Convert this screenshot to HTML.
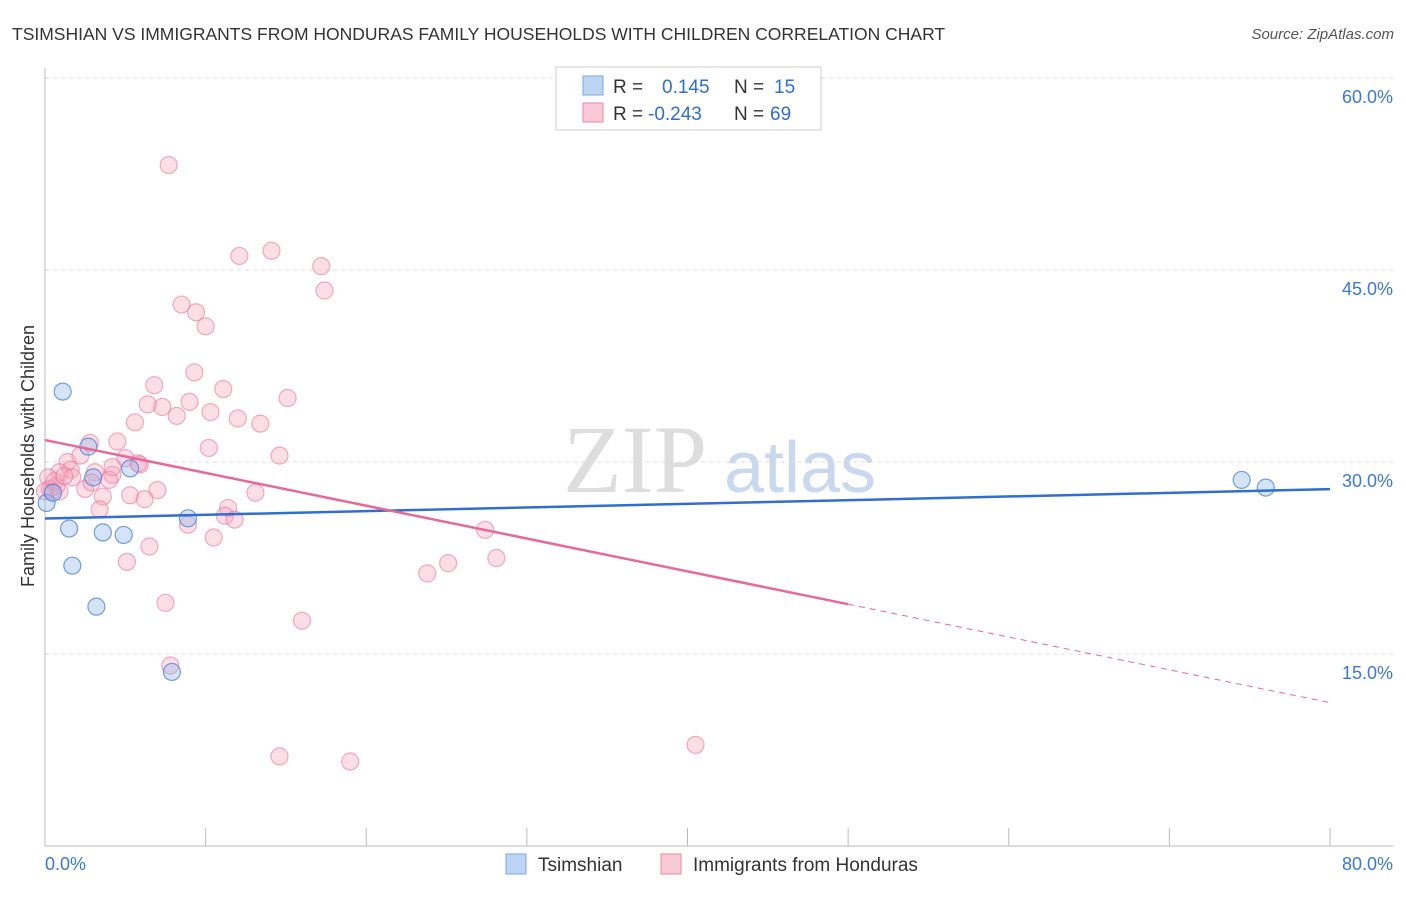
<!DOCTYPE html>
<html><head><meta charset="utf-8"><style>
body{margin:0;background:#fff;font-family:"Liberation Sans",sans-serif;}
</style></head><body>
<svg width="1406" height="892" xmlns="http://www.w3.org/2000/svg" id="chart">
<text x="12" y="40" font-size="17.5" fill="#333">TSIMSHIAN VS IMMIGRANTS FROM HONDURAS FAMILY HOUSEHOLDS WITH CHILDREN CORRELATION CHART</text>
<text x="1394" y="39" font-size="15" fill="#555" font-style="italic" text-anchor="end">Source: ZipAtlas.com</text>
<text x="635" y="492" font-size="96" fill="#ddd" font-family="Liberation Serif,serif" text-anchor="middle">ZIP</text>
<text x="800" y="492" font-size="72" fill="#c8d8ee" text-anchor="middle">atlas</text>
<g id="grid"></g><g id="axes"></g><g id="pts"></g><g id="lines"></g>
<text x="34" y="456" font-size="18" fill="#333" text-anchor="middle" transform="rotate(-90 34 456)">Family Households with Children</text>
<g>
<rect x="556" y="67" width="265" height="63" fill="#fff" stroke="#ccc"/>
<rect x="583" y="76" width="20" height="19" fill="#bcd5f5" stroke="#7aa7e0"/>
<rect x="583" y="103" width="20" height="19" fill="#f9c8d6" stroke="#e88aa8"/>
<text x="613" y="93" font-size="19" fill="#333">R = <tspan fill="#2f6fd0" x="662">0.145</tspan><tspan fill="#333" x="734">N =</tspan><tspan fill="#2f6fd0" x="774">15</tspan></text>
<text x="613" y="120" font-size="19" fill="#333">R = <tspan fill="#2f6fd0" x="648">-0.243</tspan><tspan fill="#333" x="734">N =</tspan><tspan fill="#2f6fd0" x="770">69</tspan></text>
</g>
<g>
<rect x="506" y="854" width="20" height="20" fill="#bcd5f5" stroke="#7aa7e0"/>
<text x="538" y="871" font-size="19" fill="#333">Tsimshian</text>
<rect x="661" y="854" width="20" height="20" fill="#f9c8d6" stroke="#e88aa8"/>
<text x="693" y="871" font-size="19" fill="#333">Immigrants from Honduras</text>
</g>
</svg>
<script>
const yTicks=[15,30,45,60];
const yTickLabels=["15.0%","30.0%","45.0%","60.0%"];
const xTicks=[0,10,20,30,40,50,60,70,80];
const blueX=[0.1,1.1,1.5,1.7,3.2,2.7,3.0,3.6,4.9,5.3,7.9,8.9,74.5,76.0,0.5];
const blueY=[26.8,35.5,24.8,21.9,18.7,31.2,28.8,24.5,24.3,29.5,13.6,25.6,28.6,28.0,27.6];
const pinkX=[7.7,14.1,12.1,17.2,17.4,8.5,9.4,10.0,9.3,6.8,11.1,15.1,6.4,9.0,7.3,10.3,8.2,12.0,5.6,13.4,4.5,2.8,10.2,14.6,5.0,1.4,5.9,2.2,1.6,3.1,4.2,0.9,4.0,1.7,2.5,0.2,0.7,0.4,7.0,13.1,3.6,5.3,6.2,3.4,11.4,11.2,11.8,8.9,27.4,10.5,6.5,28.1,5.1,25.1,23.8,7.5,16.0,7.8,14.6,19.0,40.5,0.3,0.6,1.2,2.9,5.8,4.2,0.0,0.9];
const pinkY=[53.2,46.5,46.1,45.3,43.4,42.3,41.7,40.6,37.0,36.0,35.7,35.0,34.5,34.7,34.3,33.9,33.6,33.4,33.1,33.0,31.6,31.5,31.1,30.5,30.3,30.0,29.8,30.5,29.4,29.2,29.0,29.2,28.6,28.8,27.9,28.8,28.1,27.7,27.8,27.6,27.3,27.4,27.1,26.3,26.4,25.8,25.5,25.1,24.7,24.1,23.4,22.5,22.2,22.1,21.3,19.0,17.6,14.1,7.0,6.6,7.9,27.9,28.5,28.9,28.4,29.9,29.6,27.7,27.7];
const X0=45,X1=1330,YB=846,YT=78;
const sx=v=>X0+v/80*(X1-X0), sy=v=>YB-v/60*(YB-YT);
const NS="http://www.w3.org/2000/svg";
function mk(tag,attrs,parent,txt){const e=document.createElementNS(NS,tag);for(const k in attrs)e.setAttribute(k,attrs[k]);if(txt!==undefined)e.textContent=txt;document.getElementById(parent).appendChild(e);return e;}
yTicks.forEach((t,i)=>{
 const g=mk('line',{x1:X0,x2:1394,y1:sy(t),y2:sy(t),stroke:'#ddd','stroke-dasharray':'4,4'},'grid');
 
 
 const l=mk('text',{x:1393,y:sy(t)+25,'font-size':18,fill:'#3a78d8','text-anchor':'end'},'axes',yTickLabels[i]);
 
 
});
const ax=mk('line',{x1:X0,x2:X0,y1:68,y2:YB,stroke:'#bbb'},'axes');


const bx=mk('line',{x1:X0,x2:1394,y1:YB,y2:YB,stroke:'#bbb'},'axes');


xTicks.forEach(t=>{const e=mk('line',{x1:sx(t),x2:sx(t),y1:828,y2:YB,stroke:'#bbb'},'axes');
 
 });
const xl0=mk('text',{x:45,y:870,'font-size':18,fill:'#3a78d8'},'axes','0.0%');


const xl1=mk('text',{x:1393,y:870,'font-size':18,fill:'#3a78d8','text-anchor':'end'},'axes','80.0%');


pinkX.forEach((v,i)=>{const c=mk('circle',{cx:sx(v),cy:sy(pinkY[i]),r:8.5,fill:'rgba(245,160,185,0.35)',stroke:'rgba(232,120,155,0.6)','stroke-width':1.2},'pts');
 
 });
blueX.forEach((v,i)=>{const c=mk('circle',{cx:sx(v),cy:sy(blueY[i]),r:8.5,fill:'rgba(150,185,235,0.4)',stroke:'rgba(70,130,215,0.75)','stroke-width':1.2},'pts');
 
 });
function fit(xs,ys){const n=xs.length,mx=xs.reduce((a,b)=>a+b)/n,my=ys.reduce((a,b)=>a+b)/n;let sxy=0,sxx=0;xs.forEach((x,i)=>{sxy+=(x-mx)*(ys[i]-my);sxx+=(x-mx)**2});const b=sxy/sxx;return [my-b*mx,b];}
const [ba,bb]=fit(blueX,blueY);
const bl=mk('line',{x1:sx(0),y1:sy(ba),x2:sx(80),y2:sy(ba+bb*80),stroke:'#2f6fd0','stroke-width':2.5},'lines');


const [pa,pb]=fit(pinkX,pinkY);
const pl=mk('line',{x1:sx(0),y1:sy(pa),x2:sx(50),y2:sy(pa+pb*50),stroke:'#e8689a','stroke-width':2.5},'lines');


const pd=mk('line',{x1:sx(50),y1:sy(pa+pb*50),x2:sx(80),y2:sy(pa+pb*80),stroke:'#e8689a','stroke-width':1,'stroke-dasharray':'6,5'},'lines');


</script>
</body></html>
